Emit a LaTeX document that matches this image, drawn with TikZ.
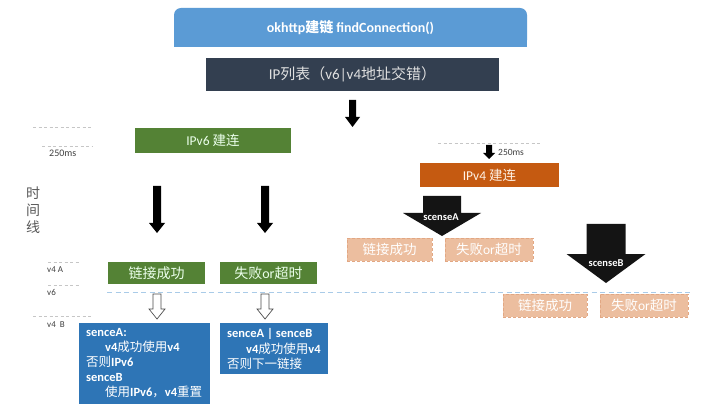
\documentclass[tikz,border=0pt]{standalone}
\usepackage{fontspec}
\setmainfont{Carlito}
\newfontfamily\cjk{Noto Sans CJK SC}
\definecolor{topblue}{HTML}{5B9BD5}
\definecolor{darkbox}{HTML}{333F50}
\definecolor{grn}{HTML}{548235}
\definecolor{org}{HTML}{C55A11}
\definecolor{pale}{HTML}{ECBE9F}
\definecolor{paleedge}{HTML}{E2A783}
\definecolor{bbox}{HTML}{2E75B6}
\definecolor{dashblue}{HTML}{A9CBE8}
\newcommand\fs[1]{\fontsize{#1}{#1}\selectfont}
% block arrow: [style]{cx}{ytop}{shaft w}{head w}{y head start}{y tip}
\newcommand\blkarrow[7][]{\path[#1] ({#2-#4/2},#3) -- ({#2+#4/2},#3) -- ({#2+#4/2},#6) -- ({#2+#5/2},#6) -- (#2,#7) -- ({#2-#5/2},#6) -- ({#2-#4/2},#6) -- cycle;}
\tikzset{
  boxn/.style={rectangle, inner sep=0pt, minimum width=#1},
  gbox/.style={boxn=#1, fill=grn, text=green!8!white, minimum height=22pt, font=\fs{14}},
  pbox/.style={boxn=#1, fill=pale, draw=paleedge, densely dashed, line width=0.5pt, text=white, minimum height=23pt, font=\fs{13.5}},
  bluebox/.style={rectangle, inner sep=0pt, fill=bbox},
  leftdash/.style={draw=gray!45, dash pattern=on 3pt off 2.5pt, line width=0.6pt},
  smalllab/.style={inner sep=0pt, anchor=west, text=black!75, font=\fs{9}},
  solidarr/.style={fill=black},
  hollowarr/.style={draw=black!70, fill=white, line width=0.7pt},
  bigarr/.style={fill=black!92},
  arrlab/.style={inner sep=0pt, text=white, font=\bfseries\fs{10.5}},
  btext/.style={inner sep=0pt, anchor=north west, align=left, text=white, font=\fs{12.5}}
}
\begin{document}
\begin{tikzpicture}[x=1pt,y=-1pt]
\useasboundingbox[fill=white] (0,0) rectangle (720,414);
% top box
\fill[topblue] (174,27) rectangle (527,47);
\node[rectangle, rounded corners=7pt, fill=topblue, minimum width=353pt, minimum height=39pt, inner sep=0pt, text=white, font=\bfseries\fs{14}] (top) at (350.5,27.5) {okhttp{\cjk 建链} findConnection()};
% ip list
\node[boxn=293pt, minimum height=33pt, fill=darkbox, text=white!88!black, font=\fs{15}] (iplist) at (352.5,74.5) {IP{\cjk 列表（}v6|v4{\cjk 地址交错）}};
\blkarrow[solidarr]{352.5}{100}{7}{15}{117}{127}
% left timeline marks
\draw[leftdash] (33,127) -- (92,127);
\draw[leftdash] (42,146) -- (92,146);
\node[smalllab, font=\fs{10}] (t250) at (49,153) {250ms};
\node[inner sep=0pt, align=center, text=black!65, font=\cjk\fs{14}, text width=16pt] (timeline) at (33,210) {时\\[3pt]间\\[3pt]线};
\draw[leftdash] (48,262) -- (80,262);
\node[smalllab] (v4a) at (47,270) {v4 A};
\draw[leftdash] (48,285) -- (80,285);
\node[smalllab] (v6) at (47,292) {v6};
\draw[leftdash] (33,316) -- (93,316);
\node[smalllab] (v4b) at (47,325) {v4\ \ B};
% IPv6
\node[boxn=156pt, minimum height=25pt, fill=grn, text=green!8!white, font=\fs{13.5}] (ipv6) at (213,140.5) {IPv6 {\cjk 建连}};
\blkarrow[solidarr]{157}{186}{8}{16}{223}{233}
\blkarrow[solidarr]{265}{186}{8}{16}{223}{233}
\node[gbox=97pt] (g1) at (156.5,273) {\cjk 链接成功};
\node[gbox=97pt] (g2) at (268.5,273) {{\cjk 失败}or{\cjk 超时}};
% dashed blue line
\draw[dashblue, dash pattern=on 5pt off 3.5pt, line width=0.9pt] (107,292) -- (692,292);
\blkarrow[hollowarr]{157}{294}{8}{16}{309}{319}
\blkarrow[hollowarr]{265}{294}{8}{16}{309}{319}
% blue boxes
\node[bluebox, minimum width=131pt, minimum height=81pt] (b1) at (144.5,363.5) {};
\node[btext] (b1t) at (86,328.5) {\textbf{senceA:}\\[2.4pt]
\hspace{19pt}\textbf{v4}{\cjk 成功使用}\textbf{v4}\\[2.4pt]
{\cjk 否则}\textbf{IPv6}\\[2.4pt]
\textbf{senceB}\\[2.4pt]
\hspace{19pt}{\cjk 使用}\textbf{IPv6}{\cjk ，}\textbf{v4}{\cjk 重置}};
\node[bluebox, minimum width=108pt, minimum height=51pt] (b2) at (274,348.5) {};
\node[btext] (b2t) at (227,328.5) {\textbf{senceA | senceB}\\[2.4pt]
\hspace{19pt}\textbf{v4}{\cjk 成功使用}\textbf{v4}\\[2.4pt]
{\cjk 否则下一链接}};
% right side
\draw[draw=gray!45, dash pattern=on 3pt off 2.5pt, line width=0.6pt] (438,143) -- (540,143);
\blkarrow[solidarr]{489}{145}{6}{12}{153}{159}
\node[smalllab, font=\fs{9.5}] (r250) at (498,152) {250ms};
\node[boxn=139pt, minimum height=24pt, fill=org, text=orange!10!white, font=\fs{13.5}] (ipv4) at (489.5,175) {IPv4 {\cjk 建连}};
\blkarrow[bigarr]{442}{196}{38}{78}{213}{236}
\node[arrlab] (sa) at (441,217) {scenseA};
\node[pbox=85pt] (p1) at (389.5,249.5) {\cjk 链接成功};
\node[pbox=88pt] (p2) at (489,249.5) {{\cjk 失败}or{\cjk 超时}};
\blkarrow[bigarr]{606}{224}{39}{79}{254}{283}
\node[arrlab] (sb) at (606,263) {scenseB};
\node[pbox=84pt] (p3) at (545,305.5) {\cjk 链接成功};
\node[pbox=88pt] (p4) at (644,305.5) {{\cjk 失败}or{\cjk 超时}};
\end{tikzpicture}
\end{document}
